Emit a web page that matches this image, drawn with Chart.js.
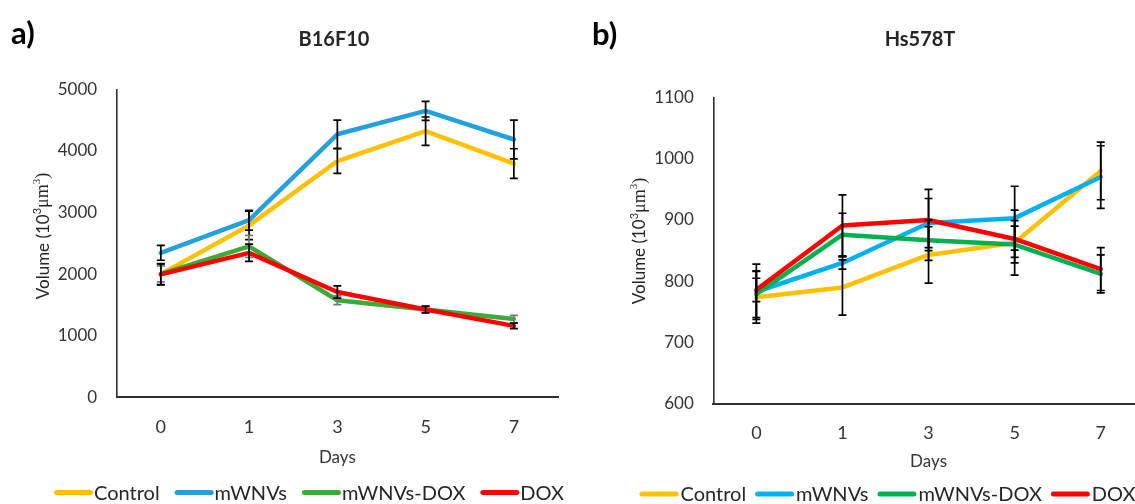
<!DOCTYPE html>
<html>
<head>
<meta charset="utf-8">
<script src="https://cdn.jsdelivr.net/npm/chart.js@4.4.1/dist/chart.umd.min.js"></script>
<style>
  html, body { margin: 0; padding: 0; background: #fff; overflow: hidden; width: 1135px; height: 504px; }
  #wa { position: absolute; left: 0; top: 0; width: 590px; height: 504px; }
  #wb { position: absolute; left: 565px; top: 0; width: 600px; height: 504px; }
</style>
</head>
<body>
<div id="wa"><canvas id="ca" width="590" height="504"></canvas></div>
<div id="wb"><canvas id="cb" width="600" height="504"></canvas></div>
<script>
// ---------- data ----------
const days = ['0', '1', '3', '5', '7'];
const seriesNames = ['Control', 'mWNVs', 'mWNVs-DOX', 'DOX'];

// a) B16F10
const b16Control     = [2000, 2790, 3835, 4320, 3795];
const b16MWNVs       = [2345, 2875, 4270, 4650, 4185];
const b16MWNVsDOX    = [2005, 2450, 1575, 1425, 1270];
const b16DOX         = [1995, 2345, 1710, 1425, 1160];
const b16ControlErr  = [170, 230, 200, 230, 240];
const b16MWNVsErr    = [120, 160, 228, 155, 314];
const b16MWNVsDOXErr = [130, 180, 70, 50, 60];
const b16DOXErr      = [170, 140, 100, 55, 45];
const b16Ticks       = [0, 1000, 2000, 3000, 4000, 5000];

// b) Hs578T
const hsControl      = [774, 790, 843, 863, 980];
const hsMWNVs        = [783, 830, 895, 903, 970];
const hsMWNVsDOX     = [779, 876, 867, 860, 812];
const hsDOX          = [786, 891, 900, 869, 820];
const hsControlErr   = [42, 45, 46, 53, 47];
const hsMWNVsErr     = [45, 10, 40, 52, 51];
const hsMWNVsDOXErr  = [38, 35, 33, 30, 31];
const hsDOXErr       = [19, 50, 50, 30, 35];
const hsTicks        = [600, 700, 800, 900, 1000, 1100];

// ---------- plugins ----------
const errBars = {
  id: 'errBars',
  afterDatasetsDraw(chart) {
    const ctx = chart.ctx, ys = chart.scales.y;
    ctx.save();
    ctx.lineWidth = 1.7;
    chart.data.datasets.forEach((ds, i) => {
      const meta = chart.getDatasetMeta(i);
      ctx.strokeStyle = ds.errColor || '#000';
      meta.data.forEach((pt, j) => {
        const v = ds.data[j], e = ds.errors[j];
        const y1 = ys.getPixelForValue(v + e), y2 = ys.getPixelForValue(v - e);
        ctx.beginPath();
        ctx.moveTo(pt.x, y1); ctx.lineTo(pt.x, y2);
        ctx.moveTo(pt.x - 4, y1); ctx.lineTo(pt.x + 4, y1);
        ctx.moveTo(pt.x - 4, y2); ctx.lineTo(pt.x + 4, y2);
        ctx.stroke();
      });
    });
    ctx.restore();
  }
};

const deco = {
  id: 'deco',
  afterDraw(chart, args, o) {
    const ctx = chart.ctx;
    ctx.save();
    // panel letter
    ctx.fillStyle = '#000';
    ctx.font = 'bold 31px Lato';
    ctx.textAlign = 'left';
    ctx.textBaseline = 'alphabetic';
    ctx.fillText(o.letter, o.letterX, o.letterY);
    // title
    ctx.fillStyle = '#262626';
    ctx.font = 'bold 20px Lato';
    ctx.textAlign = 'center';
    ctx.textBaseline = 'middle';
    ctx.fillText(o.title, o.titleX, o.titleY);
    // y axis title with mixed fonts
    const segs = [
      { t: 'Volume (10', f: '17px Lato', dy: 0 },
      { t: '3', f: '11px Lato', dy: -6 },
      { t: '\u03BCm', f: '18px "Liberation Serif"', dy: 0 },
      { t: '3', f: '11px "Liberation Serif"', dy: -6 },
      { t: ')', f: '18px "Liberation Serif"', dy: 0 }
    ];
    let total = 0;
    segs.forEach(s => { ctx.font = s.f; s.w = ctx.measureText(s.t).width; total += s.w; });
    ctx.translate(o.ylabX, o.ylabY);
    ctx.rotate(-Math.PI / 2);
    ctx.fillStyle = '#262626';
    ctx.textAlign = 'left';
    ctx.textBaseline = 'middle';
    let px = -total / 2;
    segs.forEach(s => { ctx.font = s.f; ctx.fillText(s.t, px, s.dy); px += s.w; });
    ctx.setTransform(1, 0, 0, 1, 0, 0);
    // legend
    let x = o.legX;
    ctx.font = '20px Lato';
    ctx.textAlign = 'left';
    ctx.textBaseline = 'middle';
    chart.data.datasets.forEach(ds => {
      ctx.strokeStyle = ds.borderColor;
      ctx.lineWidth = 5;
      ctx.lineCap = 'round';
      ctx.beginPath();
      ctx.moveTo(x + 2.5, o.legY);
      ctx.lineTo(x + o.lineLen - 2.5, o.legY);
      ctx.stroke();
      x += o.lineLen + o.textGap;
      ctx.fillStyle = '#262626';
      ctx.fillText(ds.label, x, o.legY + 1);
      x += ctx.measureText(ds.label).width + o.itemGap;
    });
    ctx.restore();
  }
};

Chart.defaults.font.family = 'Lato';
Chart.defaults.color = '#333';

function makeChart(id, values, errs, colors, errColors, ticks, L) {
  const datasets = seriesNames.map((name, i) => ({
    label: name,
    data: values[i],
    errors: errs[i],
    errColor: errColors[i],
    borderColor: colors[i],
    backgroundColor: colors[i],
    borderWidth: 4.5,
    borderCapStyle: 'round',
    borderJoinStyle: 'round',
    pointRadius: 0,
    pointHoverRadius: 0,
    tension: 0,
    order: seriesNames.length - i
  }));
  return new Chart(document.getElementById(id), {
    type: 'line',
    data: { labels: days, datasets },
    plugins: [errBars, deco],
    options: {
      responsive: false,
      animation: false,
      events: [],
      layout: { padding: { left: 0, right: L.padRight, top: L.top, bottom: L.padBottom } },
      plugins: {
        legend: { display: false },
        title: { display: false },
        tooltip: { enabled: false },
        deco: L.deco
      },
      scales: {
        x: {
          offset: true,
          grid: { display: false, drawTicks: false },
          border: { display: true, color: '#303030', width: 2 },
          ticks: { font: { size: 18 }, color: '#333', padding: L.xTickPad, maxRotation: 0 },
          title: { display: true, text: 'Days', font: { size: 17 }, color: '#333', padding: { top: 0, bottom: 0 } },
          afterFit(s) { s.height = L.xH; }
        },
        y: {
          min: ticks[0],
          max: ticks[ticks.length - 1],
          grid: { display: false, drawTicks: false },
          border: { display: true, color: '#303030', width: 1.6 },
          ticks: { stepSize: ticks[1] - ticks[0], font: { size: 17 }, color: '#333', padding: 19.5,
                   callback: v => String(v) },
          afterFit(s) { s.width = L.yW; }
        }
      }
    }
  });
}

makeChart('ca',
  [b16Control, b16MWNVs, b16MWNVsDOX, b16DOX],
  [b16ControlErr, b16MWNVsErr, b16MWNVsDOXErr, b16DOXErr],
  ['#FFC000', '#24A0DA', '#3DAA38', '#FF0000'],
  ['#000', '#000', '#7a7a7a', '#000'],
  b16Ticks,
  { top: 89.3, padRight: 590 - 558, padBottom: 504 - 397.3 - 70, xH: 70, yW: 116.7, xTickPad: 19,
    deco: { letter: 'a)', letterX: 11, letterY: 44, title: 'B16F10', titleX: 334, titleY: 40,
            ylabX: 43.5, ylabY: 236, legX: 54, legY: 492.5, lineLen: 39, textGap: 1, itemGap: 15 } }
);

makeChart('cb',
  [hsControl, hsMWNVs, hsMWNVsDOX, hsDOX],
  [hsControlErr, hsMWNVsErr, hsMWNVsDOXErr, hsDOXErr],
  ['#FFC000', '#00B0F0', '#00B050', '#FF0000'],
  ['#000', '#000', '#000', '#000'],
  hsTicks,
  { top: 97.3, padRight: 600 - 578.8, padBottom: 504 - 404 - 68, xH: 68, yW: 148.3, xTickPad: 18.3,
    deco: { letter: 'b)', letterX: 27, letterY: 45, title: 'Hs578T', titleX: 355, titleY: 40,
            ylabX: 75, ylabY: 241, legX: 74.5, legY: 494, lineLen: 39, textGap: 2, itemGap: 9 } }
);
</script>
</body>
</html>
